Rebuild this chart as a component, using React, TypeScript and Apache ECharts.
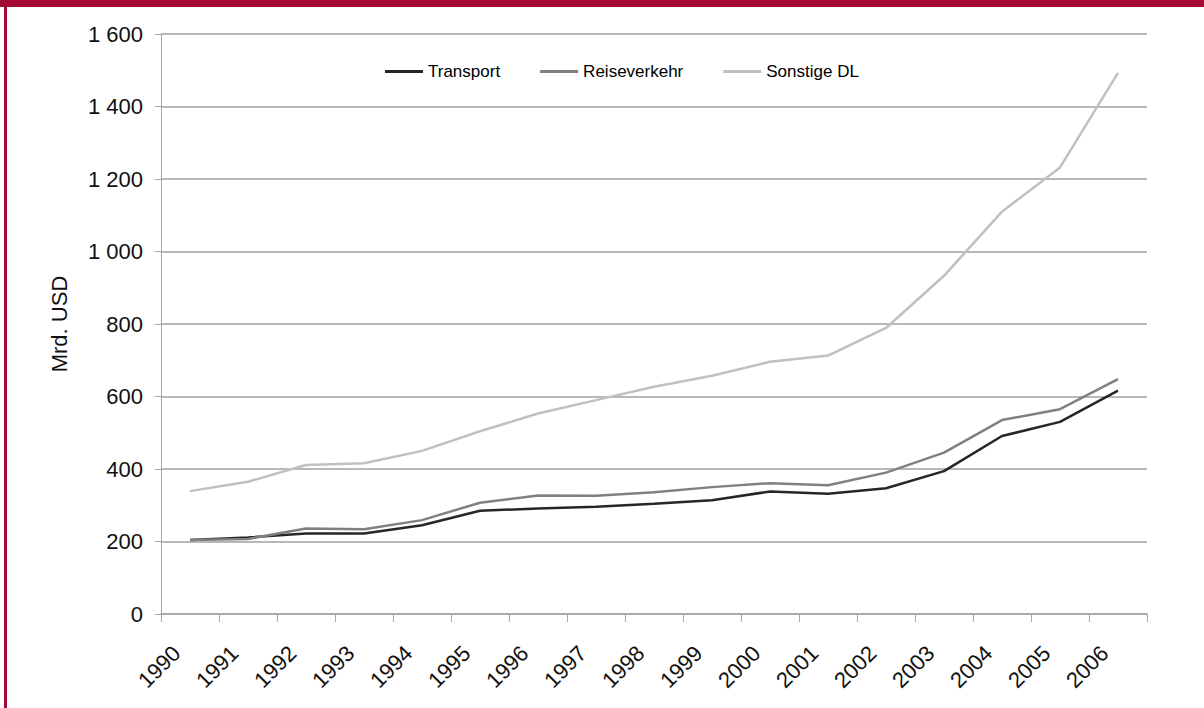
import React, { useEffect, useRef } from "react";
import * as echarts from "echarts";

const years = ["1990", "1991", "1992", "1993", "1994", "1995", "1996", "1997", "1998", "1999", "2000", "2001", "2002", "2003", "2004", "2005", "2006"];
const transport = [204, 211, 222, 222, 245, 285, 291, 296, 304, 314, 338, 332, 347, 394, 491, 530, 616];
const reiseverkehr = [204, 207, 236, 234, 259, 307, 327, 326, 336, 350, 361, 355, 390, 445, 535, 565, 648];
const sonstigeDL = [339, 365, 411, 416, 450, 504, 553, 590, 627, 657, 696, 713, 789, 933, 1110, 1232, 1493];

const FONT = "'Liberation Sans', Arial, sans-serif";
const BORDER = "#A30B35";

export default function App() {
  const ref = useRef<HTMLDivElement>(null);
  useEffect(() => {
    if (!ref.current) return;
    const chart = echarts.init(ref.current, undefined, { renderer: "svg" });
    chart.setOption({
      animation: false,
      backgroundColor: "#ffffff",
      textStyle: { fontFamily: FONT },
      grid: { left: 161, right: 57, top: 34, bottom: 94, containLabel: false },
      legend: {
        left: 380,
        top: 58,
        padding: 5,
        itemWidth: 38,
        itemHeight: 14,
        itemGap: 40,
        icon: "path://M0,0 L38,0 L38,3 L0,3 Z",
        textStyle: { fontFamily: FONT, fontSize: 17, color: "#000" },
        data: ["Transport", "Reiseverkehr", "Sonstige DL"],
      },
      xAxis: {
        type: "category",
        data: years,
        boundaryGap: true,
        axisLine: { show: true, lineStyle: { color: "#a6a6a6", width: 1.5 } },
        axisTick: { show: true, length: 8, lineStyle: { color: "#a6a6a6", width: 1 } },
        axisLabel: {
          rotate: 45,
          fontSize: 22,
          color: "#111",
          fontFamily: FONT,
          margin: 22,
          interval: 0,
          padding: [0, 19, 0, 0],
        },
        splitLine: { show: false },
      },
      yAxis: {
        type: "value",
        min: 0,
        max: 1600,
        interval: 200,
        name: "Mrd. USD",
        nameLocation: "middle",
        nameGap: 91,
        nameTextStyle: { fontSize: 22, color: "#111", fontFamily: FONT },
        axisLine: { show: true, lineStyle: { color: "#a6a6a6", width: 1 } },
        axisTick: { show: true, length: 6, lineStyle: { color: "#a6a6a6" } },
        axisLabel: {
          fontSize: 22,
          color: "#111",
          fontFamily: FONT,
          margin: 18,
          formatter: (v: number) => String(v).replace(/\B(?=(\d{3})+(?!\d))/g, " "),
        },
        splitLine: { show: true, lineStyle: { color: "#a0a0a0", width: 1.5 } },
      },
      series: [
        { name: "Transport", type: "line", data: transport, symbol: "none", lineStyle: { color: "#262626", width: 2.5 }, itemStyle: { color: "#262626" } },
        { name: "Reiseverkehr", type: "line", data: reiseverkehr, symbol: "none", lineStyle: { color: "#808080", width: 2.5 }, itemStyle: { color: "#808080" } },
        { name: "Sonstige DL", type: "line", data: sonstigeDL, symbol: "none", lineStyle: { color: "#c0c0c0", width: 2.5 }, itemStyle: { color: "#c0c0c0" } },
      ],
      graphic: [
        { type: "rect", left: 0, top: 0, shape: { width: 1204, height: 7 }, style: { fill: BORDER }, silent: true },
        { type: "rect", left: 4, top: 0, shape: { width: 3, height: 708 }, style: { fill: BORDER }, silent: true },
      ],
    });
    return () => chart.dispose();
  }, []);
  return (
    <div
      ref={ref}
      style={{ position: "fixed", left: 0, top: 0, width: 1204, height: 708, background: "#fff" }}
    />
  );
}
